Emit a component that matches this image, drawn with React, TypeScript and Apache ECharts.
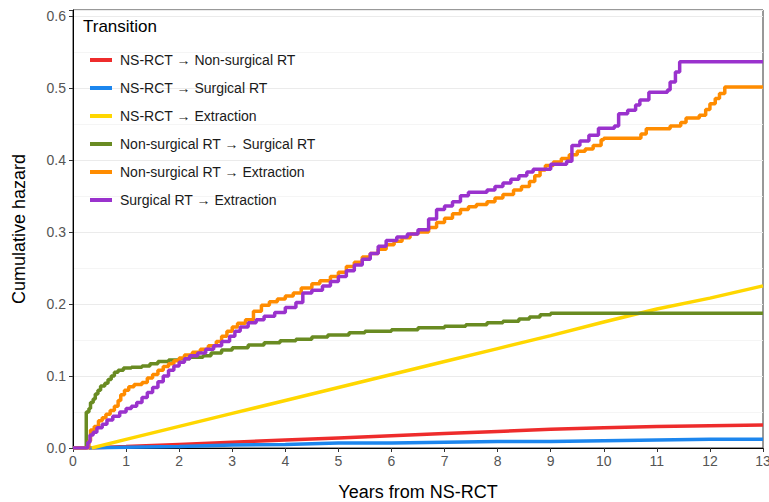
import React, { useEffect, useRef } from "react";
import * as echarts from "echarts";

const seriesNames = [
  "NS-RCT \u2192 Non-surgical RT",
  "NS-RCT \u2192 Surgical RT",
  "NS-RCT \u2192 Extraction",
  "Non-surgical RT \u2192 Surgical RT",
  "Non-surgical RT \u2192 Extraction",
  "Surgical RT \u2192 Extraction",
];

const xTicks = [0, 1, 2, 3, 4, 5, 6, 7, 8, 9, 10, 11, 12, 13];
const yTicks = [0, 0.1, 0.2, 0.3, 0.4, 0.5, 0.6];

const nsToNonSurg: [number, number][] = [
  [0.3, 0], [1, 0.002], [2, 0.005], [3, 0.008], [4, 0.011], [5, 0.014], [6, 0.017],
  [7, 0.02], [8, 0.023], [9, 0.026], [10, 0.028], [11, 0.03], [12, 0.031], [13, 0.032],
];

const nsToSurg: [number, number][] = [
  [0.3, 0], [1, 0.001], [2, 0.002], [3, 0.004], [4, 0.005], [5, 0.007], [6, 0.007],
  [7, 0.008], [8, 0.009], [9, 0.009], [10, 0.01], [11, 0.011], [12, 0.012], [13, 0.012],
];

const nsToExtr: [number, number][] = [
  [0.35, 0], [1, 0.012], [2, 0.03], [3, 0.048], [4, 0.066], [5, 0.084], [6, 0.102],
  [7, 0.12], [8, 0.138], [9, 0.156], [10, 0.175], [11, 0.193], [12, 0.208], [13, 0.225],
];

const nonSurgToSurg: [number, number][] = [
  [0, 0], [0.25, 0.05], [0.3, 0.055], [0.33, 0.063], [0.38, 0.068], [0.42, 0.075],
  [0.47, 0.08], [0.52, 0.086], [0.6, 0.09], [0.66, 0.095], [0.72, 0.1], [0.78, 0.105],
  [0.85, 0.108], [0.95, 0.111], [1.1, 0.112], [1.3, 0.114], [1.45, 0.117], [1.6, 0.12],
  [1.8, 0.122], [2.0, 0.124], [2.2, 0.126], [2.45, 0.128], [2.6, 0.132], [2.8, 0.136],
  [3.0, 0.139], [3.3, 0.143], [3.6, 0.146], [3.9, 0.149], [4.2, 0.151], [4.5, 0.154],
  [4.8, 0.157], [5.2, 0.16], [5.5, 0.162], [6.0, 0.164], [6.5, 0.167], [7.0, 0.169],
  [7.4, 0.171], [7.8, 0.174], [8.1, 0.176], [8.4, 0.179], [8.6, 0.182], [8.8, 0.185],
  [9.0, 0.187], [13, 0.187],
];

const nonSurgToExtr: [number, number][] = [
  [0, 0], [0.3, 0.01], [0.33, 0.025], [0.4, 0.03], [0.48, 0.038], [0.55, 0.042],
  [0.62, 0.047], [0.7, 0.052], [0.78, 0.058], [0.85, 0.066], [0.9, 0.074], [0.97, 0.08],
  [1.05, 0.085], [1.15, 0.088], [1.3, 0.091], [1.4, 0.097], [1.5, 0.102], [1.6, 0.108],
  [1.7, 0.113], [1.8, 0.117], [1.9, 0.121], [2.0, 0.125], [2.1, 0.129], [2.25, 0.133],
  [2.4, 0.137], [2.55, 0.142], [2.7, 0.148], [2.8, 0.155], [2.9, 0.162], [3.0, 0.168],
  [3.1, 0.173], [3.25, 0.178], [3.4, 0.19], [3.55, 0.198], [3.7, 0.203], [3.85, 0.207],
  [4.0, 0.211], [4.15, 0.215], [4.3, 0.222], [4.5, 0.228], [4.65, 0.232], [4.85, 0.238],
  [5.0, 0.244], [5.15, 0.252], [5.3, 0.258], [5.45, 0.265], [5.6, 0.27], [5.75, 0.276],
  [5.9, 0.282], [6.05, 0.287], [6.2, 0.292], [6.35, 0.297], [6.5, 0.3], [6.7, 0.306],
  [6.85, 0.313], [7.0, 0.319], [7.15, 0.325], [7.3, 0.331], [7.45, 0.335], [7.6, 0.338],
  [7.8, 0.342], [7.95, 0.347], [8.1, 0.352], [8.3, 0.358], [8.45, 0.363], [8.6, 0.37],
  [8.7, 0.378], [8.8, 0.386], [8.9, 0.392], [9.05, 0.397], [9.2, 0.402], [9.35, 0.407],
  [9.5, 0.412], [9.65, 0.415], [9.8, 0.42], [9.95, 0.428], [10.0, 0.43], [10.7, 0.436],
  [10.8, 0.443], [11.25, 0.447], [11.45, 0.452], [11.55, 0.458], [11.8, 0.462],
  [11.92, 0.47], [12.0, 0.478], [12.1, 0.485], [12.18, 0.492], [12.28, 0.501], [13, 0.501],
];

const surgToExtr: [number, number][] = [
  [0, 0], [0.28, 0.008], [0.32, 0.018], [0.38, 0.022], [0.45, 0.028], [0.55, 0.033],
  [0.64, 0.039], [0.75, 0.044], [0.88, 0.05], [1.0, 0.055], [1.1, 0.058], [1.2, 0.063],
  [1.3, 0.07], [1.4, 0.077], [1.5, 0.084], [1.6, 0.092], [1.7, 0.1], [1.8, 0.108],
  [1.9, 0.114], [2.0, 0.119], [2.1, 0.124], [2.2, 0.128], [2.35, 0.132], [2.5, 0.137],
  [2.65, 0.142], [2.8, 0.148], [2.95, 0.155], [3.05, 0.162], [3.15, 0.168], [3.3, 0.174],
  [3.45, 0.178], [3.6, 0.183], [3.8, 0.188], [4.0, 0.195], [4.2, 0.202], [4.33, 0.215],
  [4.5, 0.219], [4.7, 0.225], [4.85, 0.231], [5.0, 0.238], [5.15, 0.246], [5.3, 0.254],
  [5.45, 0.262], [5.6, 0.27], [5.75, 0.28], [5.9, 0.288], [6.1, 0.293], [6.3, 0.297],
  [6.5, 0.303], [6.7, 0.318], [6.85, 0.331], [7.0, 0.336], [7.15, 0.342], [7.3, 0.35],
  [7.45, 0.355], [7.8, 0.358], [7.95, 0.363], [8.1, 0.368], [8.25, 0.373], [8.4, 0.378],
  [8.55, 0.383], [8.67, 0.387], [9.0, 0.394], [9.3, 0.398], [9.4, 0.42], [9.55, 0.426],
  [9.72, 0.434], [9.9, 0.444], [10.2, 0.447], [10.28, 0.464], [10.45, 0.469], [10.6, 0.476],
  [10.68, 0.483], [10.85, 0.494], [11.2, 0.497], [11.25, 0.508], [11.35, 0.522],
  [11.43, 0.536], [13, 0.536],
];

const seriesData = [nsToNonSurg, nsToSurg, nsToExtr, nonSurgToSurg, nonSurgToExtr, surgToExtr];
const seriesStep = [false, false, false, true, true, true];
const colors = ["#EE2C2C", "#1C86EE", "#FFD700", "#698B22", "#FF8C00", "#9A32CD"];

const FONT = "'Liberation Sans', Arial, sans-serif";

export default function App() {
  const ref = useRef<HTMLDivElement>(null);
  useEffect(() => {
    if (!ref.current) return;
    const chart = echarts.init(ref.current, undefined, { renderer: "svg" });
    chart.setOption({
      animation: false,
      backgroundColor: "#ffffff",
      grid: {
        left: 73,
        right: 6,
        top: 10,
        bottom: 54,
        show: true,
        borderColor: "#333333",
        borderWidth: 1,
        backgroundColor: "transparent",
        containLabel: false,
        outerBoundsMode: "none",
      },
      graphic: [
        {
          type: "text",
          left: 83,
          top: 18,
          style: { text: "Transition", font: `17px ${FONT}`, fill: "#000000" },
        },
      ],
      legend: {
        data: seriesNames,
        orient: "vertical",
        left: 85,
        top: 47,
        icon: "rect",
        itemWidth: 22,
        itemHeight: 4,
        itemGap: 12,
        textStyle: {
          fontFamily: FONT,
          fontSize: 14,
          color: "#1a1a1a",
          lineHeight: 16,
          padding: [0, 0, 0, 3],
        },
      },
      xAxis: {
        type: "value",
        min: 0,
        max: 13,
        interval: 1,
        name: "Years from NS-RCT",
        nameLocation: "middle",
        nameGap: 35,
        nameTextStyle: { fontFamily: FONT, fontSize: 18, color: "#000000" },
        axisLine: { show: true, onZero: false, lineStyle: { color: "#000000", width: 1 } },
        axisTick: { show: true, length: 4, lineStyle: { color: "#333333" } },
        axisLabel: {
          fontFamily: FONT,
          fontSize: 14,
          color: "#555555",
          margin: 6,
          formatter: (v: number) => (xTicks.includes(v) ? String(v) : ""),
        },
        splitLine: { show: false },
      },
      yAxis: {
        type: "value",
        min: 0,
        max: 0.608,
        interval: 0.1,
        name: "Cumulative hazard",
        nameLocation: "middle",
        nameGap: 45,
        nameTextStyle: { fontFamily: FONT, fontSize: 18, color: "#000000" },
        axisLine: { show: true, onZero: false, lineStyle: { color: "#000000", width: 1 } },
        axisTick: { show: true, length: 4, lineStyle: { color: "#333333" } },
        axisLabel: {
          fontFamily: FONT,
          fontSize: 14,
          color: "#555555",
          margin: 7,
          formatter: (v: number) => {
            const hit = yTicks.find((t) => Math.abs(t - v) < 1e-6);
            return hit === undefined ? "" : hit.toFixed(1);
          },
        },
        splitLine: { show: true, lineStyle: { color: "#EBEBEB", width: 1.2 } },
        minorTick: { show: false, splitNumber: 2 },
        minorSplitLine: { show: true, lineStyle: { color: "#F3F3F3", width: 0.8 } },
      },
      series: seriesNames.map((name, i) => ({
        name,
        type: "line",
        data: seriesData[i],
        step: seriesStep[i] ? "end" : false,
        showSymbol: false,
        symbol: "none",
        color: colors[i],
        lineStyle: { color: colors[i], width: 3.5 },
        z: 2 + i,
      })),
    });
    return () => chart.dispose();
  }, []);
  return <div ref={ref} style={{ width: 769, height: 502, position: "absolute", left: 0, top: 0 }} />;
}
